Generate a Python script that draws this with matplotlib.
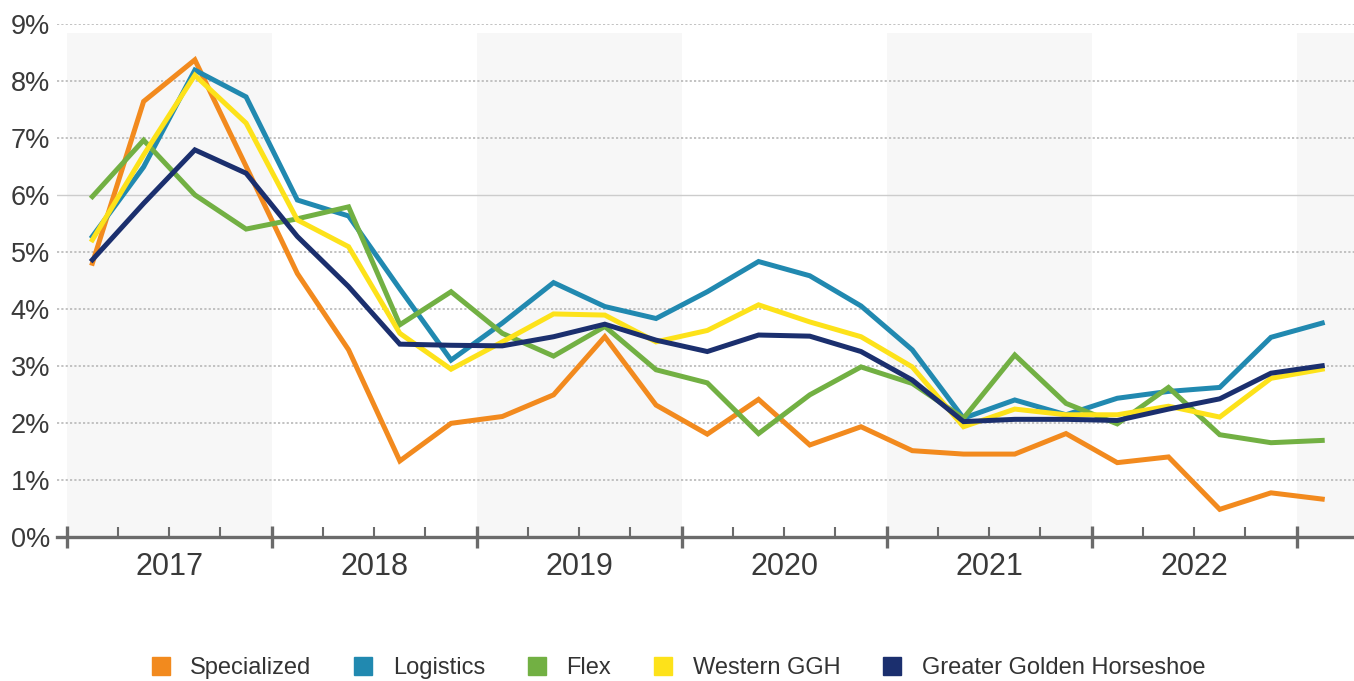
import matplotlib
matplotlib.use("Agg")
import matplotlib.pyplot as plt
from matplotlib.lines import Line2D
from matplotlib.transforms import blended_transform_factory

plt.rcParams['font.family'] = ['Liberation Sans', 'DejaVu Sans']

# quarterly availability rates, 2017 Q1 .. 2023 Q1
years = ['2017', '2018', '2019', '2020', '2021', '2022']
specialized = [4.80, 7.64, 8.37, 6.50, 4.62, 3.28, 1.33, 1.99, 2.11, 2.49, 3.51, 2.31, 1.80,
               2.41, 1.61, 1.93, 1.51, 1.45, 1.45, 1.81, 1.30, 1.40, 0.48, 0.77, 0.66]
logistics = [5.27, 6.49, 8.19, 7.72, 5.91, 5.63, 4.35, 3.10, 3.75, 4.46, 4.04, 3.83, 4.30,
             4.83, 4.58, 4.05, 3.28, 2.08, 2.40, 2.14, 2.43, 2.55, 2.62, 3.50, 3.75]
flex = [5.97, 6.96, 6.00, 5.40, 5.58, 5.79, 3.72, 4.30, 3.57, 3.17, 3.69, 2.93, 2.70,
        1.81, 2.49, 2.98, 2.69, 2.08, 3.19, 2.34, 1.98, 2.62, 1.79, 1.65, 1.69]
western_ggh = [5.21, 6.70, 8.10, 7.26, 5.56, 5.09, 3.57, 2.94, 3.42, 3.91, 3.89, 3.42, 3.62,
               4.07, 3.77, 3.51, 2.98, 1.93, 2.24, 2.14, 2.14, 2.29, 2.10, 2.78, 2.94]
ggh = [4.86, 5.85, 6.79, 6.38, 5.27, 4.39, 3.38, 3.36, 3.35, 3.51, 3.73, 3.45, 3.25,
       3.54, 3.52, 3.25, 2.75, 2.02, 2.06, 2.06, 2.04, 2.24, 2.42, 2.87, 3.00]

series = [
    ("Specialized", specialized, "#f28a1e"),
    ("Logistics", logistics, "#2189b0"),
    ("Flex", flex, "#72b043"),
    ("Western GGH", western_ggh, "#fde21a"),
    ("Greater Golden Horseshoe", ggh, "#1b2f6e"),
]

fig = plt.figure(figsize=(13.54, 6.81), dpi=100)
ax = fig.add_axes([0.0421, 0.2119, 0.9579, 0.7529])

n = len(specialized)
x = list(range(n))
x_left = -0.69
x_right = 24.62
ax.set_xlim(x_left, x_right)
ax.set_ylim(0, 9)

# alternating year shading
for k in range(0, len(years) + 1, 2):
    lo = -0.5 + 4 * k
    hi = min(lo + 4, x_right)
    ax.fill_between([lo, hi], 0, 8.85, color="#f7f7f7", lw=0, zorder=0)

# gridlines
for v in range(1, 10):
    if v == 6:
        ax.axhline(v, color="#cccccc", lw=1.0, zorder=1)
    else:
        ax.axhline(v, color="#bdbdbd", lw=1.3, ls=(0, (1.2, 1.2)), zorder=1)

for name, vals, col in series:
    ax.plot(x, vals, color=col, lw=3.6, label=name, zorder=3, solid_joinstyle='miter')

for s in ['top', 'right', 'left']:
    ax.spines[s].set_visible(False)
ax.spines['bottom'].set_color("#6b6b6b")
ax.spines['bottom'].set_linewidth(2.4)
ax.spines['bottom'].set_zorder(4)

ax.set_yticks(range(0, 10))
ax.set_yticklabels([f"{v}%" for v in range(0, 10)])
ax.tick_params(axis='y', length=0, pad=5, labelsize=19.5, labelcolor="#3a3a3a")

# year boundaries (major) and quarter boundaries (minor)
ax.set_xticks([-0.5 + 4 * k for k in range(len(years) + 1)])
ax.set_xticklabels([])
ax.set_xticks([-0.5 + q for q in range(25) if q % 4 != 0], minor=True)
ax.tick_params(axis='x', which='major', direction='inout', length=16, width=2.4, color="#6b6b6b")
ax.tick_params(axis='x', which='minor', direction='in', length=7, width=1.5, color="#6b6b6b")

trans = blended_transform_factory(ax.transData, ax.transAxes)
for k, yr in enumerate(years):
    ax.text(1.5 + 4 * k, -0.059, yr, transform=trans, ha='center', va='center',
            fontsize=22, color="#3a3a3a")

handles = [Line2D([], [], marker='s', ls='none', markersize=12.5, color=col, label=name)
           for name, vals, col in series]
fig.legend(handles=handles, loc='center', bbox_to_anchor=(0.5, 0.019), ncol=5,
           frameon=False, fontsize=17, columnspacing=1.7, handlelength=1.0,
           handletextpad=0.75, labelcolor="#333333")

fig.savefig("out.png", dpi=100)
